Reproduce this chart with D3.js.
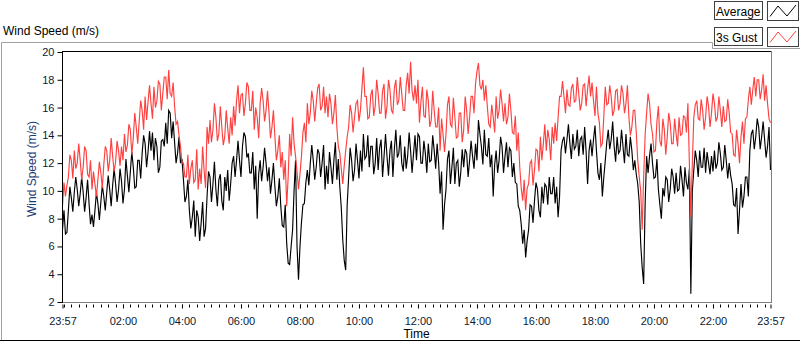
<!DOCTYPE html>
<html><head><meta charset="utf-8">
<script src="https://cdn.jsdelivr.net/npm/d3@7/dist/d3.min.js"></script>
<style>
body{margin:0;background:#fff;}
svg{display:block;font-family:"Liberation Sans",Arial,sans-serif;}
</style>
</head><body>
<svg id="chart" width="800" height="342"></svg>
<script>
// ---- data ----
const chartTitle = "Wind Speed (m/s)";
const yAxisTitle = "Wind Speed (m/s)";
const xAxisTitle = "Time";
const seriesNames = ["Average", "3s Gust"];
const seriesColors = ["#000000", "#ff4040"];
const startTime = "2020-01-01T23:57:00";
const endTime = "2020-01-02T23:57:00";
const stepMinutes = 3;
const yTicks = [2, 4, 6, 8, 10, 12, 14, 16, 18, 20];
const xTickTimes = ["2020-01-01T23:57:00", "2020-01-02T02:00:00", "2020-01-02T04:00:00", "2020-01-02T06:00:00",
  "2020-01-02T08:00:00", "2020-01-02T10:00:00", "2020-01-02T12:00:00", "2020-01-02T14:00:00",
  "2020-01-02T16:00:00", "2020-01-02T18:00:00", "2020-01-02T20:00:00", "2020-01-02T22:00:00", "2020-01-02T23:57:00"];
const xTickLabels = ["23:57", "02:00", "04:00", "06:00", "08:00", "10:00", "12:00", "14:00", "16:00", "18:00", "20:00", "22:00", "23:57"];

// one value every 3 minutes, 20 values per hour (one row per hour)
const average = [
  7.2, 8.6, 6.9, 7.0, 8.6, 10.3, 9.5, 8.5, 9.9, 11.0, 10.1, 8.9, 9.8, 11.0, 9.9, 8.5, 9.5, 10.8, 9.1, 7.6,
  8.3, 7.4, 8.6, 9.9, 9.1, 7.9, 9.2, 10.4, 9.6, 8.6, 9.9, 11.1, 10.1, 8.9, 10.4, 11.6, 10.5, 9.2, 10.1, 11.6,
  10.7, 9.1, 10.1, 12.3, 11.1, 9.9, 11.4, 12.8, 11.7, 10.2, 10.3, 12.2, 12.2, 10.9, 12.7, 14.0, 13.4, 11.7, 12.8, 14.3,
  12.9, 14.2, 12.2, 13.8, 13.2, 11.3, 11.7, 13.6, 13.7, 13.2, 14.9, 13.4, 15.8, 15.6, 13.8, 15.0, 13.5, 12.0, 12.7, 13.9,
  12.0, 12.3, 10.8, 9.2, 9.6, 10.8, 8.6, 7.3, 8.1, 9.3, 6.7, 8.6, 8.1, 6.4, 7.7, 9.2, 6.7, 7.3, 9.6, 11.4,
  11.0, 9.2, 10.5, 12.1, 10.1, 8.9, 10.8, 11.2, 9.3, 8.6, 11.0, 10.0, 11.5, 9.3, 10.5, 12.0, 12.5, 11.0, 12.2, 13.6,
  12.2, 11.0, 13.2, 14.2, 13.9, 12.4, 12.7, 11.3, 11.3, 12.8, 10.1, 11.8, 8.0, 11.2, 12.2, 10.7, 11.7, 13.1, 12.0, 10.7,
  11.7, 9.8, 10.8, 12.0, 10.3, 8.9, 9.6, 10.9, 8.9, 7.5, 7.4, 9.0, 6.2, 4.8, 4.7, 6.0, 7.2, 10.0, 12.2, 6.0,
  3.6, 6.0, 7.7, 9.0, 9.1, 10.6, 11.5, 10.4, 12.0, 13.3, 12.2, 10.8, 11.7, 13.0, 12.7, 11.0, 12.0, 13.3, 10.1, 11.8,
  10.5, 12.8, 11.7, 10.5, 12.2, 13.5, 10.8, 12.3, 10.3, 8.8, 6.5, 5.0, 4.3, 9.0, 11.0, 13.1, 12.2, 10.7, 11.5, 13.4,
  12.2, 10.9, 12.9, 11.4, 14.1, 12.3, 12.5, 14.0, 11.7, 13.2, 13.2, 11.2, 12.0, 13.8, 11.5, 13.1, 13.7, 11.0, 12.5, 14.1,
  12.5, 11.1, 12.9, 13.6, 11.0, 13.0, 14.4, 12.4, 12.7, 14.0, 12.0, 11.4, 13.2, 11.6, 12.5, 14.2, 12.9, 11.3, 12.7, 14.0,
  12.2, 14.1, 13.9, 12.0, 12.0, 13.6, 12.7, 11.3, 13.4, 12.1, 12.2, 14.0, 12.9, 11.6, 13.4, 12.0, 9.8, 11.4, 7.2, 9.0,
  10.1, 12.3, 12.9, 10.5, 11.7, 13.1, 10.5, 12.0, 12.2, 10.3, 11.3, 13.0, 11.7, 13.0, 12.7, 11.0, 12.2, 13.6, 12.5, 11.6,
  13.4, 12.2, 15.1, 14.1, 13.2, 11.9, 14.4, 12.6, 12.5, 13.8, 11.7, 12.6, 9.6, 11.9, 12.9, 11.3, 12.2, 13.9, 13.2, 11.3,
  12.5, 13.5, 11.7, 13.1, 12.9, 11.0, 12.0, 10.6, 10.5, 8.9, 8.6, 7.6, 6.2, 7.2, 5.2, 6.4, 7.2, 9.0, 8.9, 7.7,
  9.3, 10.6, 10.1, 8.6, 8.1, 10.3, 9.1, 10.5, 10.3, 9.0, 11.0, 9.8, 9.8, 11.0, 9.1, 10.3, 8.1, 9.6, 12.9, 13.6,
  13.9, 12.7, 13.7, 14.8, 13.4, 12.3, 14.1, 13.0, 13.2, 14.4, 12.5, 13.7, 13.9, 12.6, 14.6, 12.8, 10.5, 12.9, 13.7, 12.5,
  13.7, 14.7, 12.9, 11.3, 10.8, 12.0, 9.6, 11.0, 12.2, 13.5, 14.4, 13.0, 13.7, 15.0, 13.2, 12.1, 13.9, 12.7, 12.9, 14.4,
  13.2, 12.0, 14.1, 12.6, 12.5, 13.9, 12.9, 11.5, 12.2, 11.2, 10.5, 9.2, 6.2, 4.5, 3.3, 9.0, 12.5, 11.3, 12.5, 13.4,
  12.0, 10.9, 11.0, 12.3, 10.1, 9.0, 8.0, 10.2, 9.6, 11.0, 10.8, 9.2, 10.1, 11.6, 11.0, 9.8, 11.3, 10.0, 10.1, 11.8,
  10.8, 9.6, 11.7, 10.6, 10.1, 11.6, 2.6, 10.0, 11.5, 12.9, 12.2, 11.0, 12.9, 11.7, 11.7, 13.1, 11.3, 12.8, 12.0, 11.2,
  12.5, 11.4, 12.9, 11.6, 12.0, 13.5, 12.7, 11.5, 11.7, 13.3, 12.2, 10.9, 12.0, 11.1, 10.5, 9.0, 8.9, 10.2, 6.9, 8.6,
  10.5, 8.8, 9.6, 11.0, 11.0, 9.6, 12.9, 14.1, 14.4, 13.0, 13.9, 15.2, 14.6, 13.0, 13.9, 15.0, 13.7, 12.4, 13.2, 14.6,
  11.5
];
const gust = [
  8.9, 10.6, 9.6, 10.4, 11.0, 12.6, 12.2, 10.9, 12.9, 11.6, 12.0, 13.4, 12.2, 10.8, 11.7, 13.2, 12.9, 11.2, 11.0, 12.2,
  10.1, 11.4, 10.5, 9.6, 10.8, 12.1, 11.3, 10.2, 11.9, 13.2, 12.9, 11.4, 12.2, 13.8, 12.5, 11.4, 12.1, 13.6, 12.9, 11.8,
  13.2, 12.2, 14.1, 12.8, 13.3, 14.8, 14.4, 12.6, 13.8, 15.6, 14.6, 13.4, 15.0, 16.5, 15.8, 14.4, 16.8, 15.1, 16.4, 17.6,
  16.3, 15.2, 17.5, 16.0, 16.5, 17.9, 17.7, 15.8, 17.0, 18.2, 18.2, 16.6, 18.7, 17.0, 16.8, 17.8, 16.1, 14.8, 15.0, 14.0,
  13.2, 12.0, 12.0, 11.0, 11.0, 12.6, 10.5, 11.6, 12.2, 10.6, 10.8, 13.0, 10.1, 11.6, 10.5, 13.2, 11.5, 10.2, 14.6, 13.4,
  15.1, 13.5, 14.4, 16.3, 15.3, 13.6, 14.1, 16.1, 14.6, 13.3, 13.9, 15.8, 14.5, 13.4, 15.3, 14.0, 16.1, 14.7, 16.5, 17.6,
  15.6, 16.9, 17.0, 15.4, 16.3, 17.8, 17.5, 15.8, 15.8, 17.2, 14.4, 16.0, 15.3, 13.8, 16.3, 17.4, 16.5, 15.0, 15.8, 17.2,
  15.6, 13.8, 14.6, 15.8, 13.9, 12.2, 12.9, 14.0, 11.7, 12.8, 10.8, 12.2, 8.9, 11.0, 14.1, 12.5, 15.3, 13.4, 12.5, 11.4,
  10.1, 11.2, 12.5, 14.2, 14.9, 13.5, 16.3, 14.8, 15.6, 17.2, 16.5, 15.0, 16.3, 17.4, 17.7, 15.8, 16.1, 17.5, 15.6, 16.8,
  15.3, 17.0, 16.3, 14.8, 15.6, 16.9, 14.6, 13.2, 12.7, 11.6, 10.5, 11.8, 12.9, 13.9, 14.6, 16.2, 15.6, 14.2, 15.3, 16.3,
  16.5, 15.0, 15.8, 17.4, 18.9, 16.8, 16.8, 15.2, 15.3, 16.9, 17.3, 15.4, 16.1, 18.0, 17.0, 15.6, 15.6, 17.2, 17.7, 15.2,
  16.1, 18.0, 17.3, 15.8, 15.6, 17.4, 18.0, 16.2, 16.5, 18.2, 17.0, 15.8, 15.8, 17.6, 18.5, 17.0, 19.3, 17.2, 16.5, 17.6,
  16.3, 18.0, 14.9, 16.4, 17.5, 15.4, 15.3, 17.3, 16.5, 14.6, 15.1, 17.2, 15.8, 14.6, 14.6, 16.0, 12.9, 15.2, 14.1, 12.8,
  14.1, 16.2, 16.8, 14.8, 14.6, 16.7, 15.3, 13.8, 13.9, 15.6, 15.6, 13.5, 14.4, 16.8, 15.8, 14.1, 15.3, 16.8, 16.8, 15.6,
  17.7, 18.6, 19.2, 17.6, 17.3, 18.0, 16.5, 17.6, 16.1, 14.8, 14.6, 16.2, 15.3, 14.2, 16.8, 15.2, 15.8, 17.3, 16.3, 15.0,
  16.3, 14.8, 15.3, 17.0, 15.8, 14.2, 14.1, 15.4, 12.9, 14.2, 11.7, 10.2, 9.3, 10.8, 8.6, 10.2, 10.5, 12.0, 12.2, 10.4,
  11.5, 13.0, 12.9, 11.4, 13.9, 12.2, 13.4, 14.8, 12.9, 14.4, 13.7, 12.2, 14.6, 13.4, 14.9, 13.6, 15.3, 16.8, 16.8, 17.9,
  16.8, 15.6, 17.3, 16.2, 16.1, 17.4, 17.7, 16.4, 16.5, 18.2, 17.0, 15.8, 16.3, 17.6, 17.7, 16.1, 17.3, 18.3, 16.8, 17.8,
  16.5, 15.4, 17.5, 15.6, 14.9, 13.2, 13.4, 15.4, 17.5, 16.2, 16.3, 17.6, 16.8, 15.4, 15.8, 17.2, 17.3, 15.8, 16.3, 17.6,
  17.0, 15.6, 16.3, 17.6, 15.3, 14.0, 14.6, 15.8, 15.8, 14.2, 12.2, 11.0, 10.0, 7.2, 11.0, 14.0, 15.6, 17.0, 16.3, 14.8,
  14.1, 12.8, 12.9, 15.0, 16.1, 13.6, 13.2, 15.2, 14.4, 12.6, 13.9, 15.6, 14.9, 13.4, 13.4, 15.2, 14.1, 13.2, 15.3, 14.0,
  14.1, 15.4, 15.3, 14.2, 16.3, 12.0, 8.1, 12.0, 15.3, 16.2, 16.5, 15.2, 15.1, 16.6, 15.8, 14.4, 15.3, 16.8, 16.1, 14.6,
  15.6, 17.0, 16.3, 15.0, 15.3, 16.8, 15.8, 14.6, 16.1, 15.0, 15.1, 16.6, 15.6, 14.2, 14.1, 12.6, 12.5, 14.4, 13.4, 12.0,
  13.9, 15.0, 13.4, 15.2, 15.3, 16.6, 17.5, 16.2, 17.3, 18.2, 16.8, 18.0, 18.0, 16.6, 17.3, 18.4, 16.5, 17.6, 16.3, 15.2,
  14.9
];

// ---- layout ----
const svg = d3.select("#chart");
const plot = {left: 62.5, right: 770.5, top: 52, bottom: 302};

const parse = d3.isoParse;
const t0 = parse(startTime), t1 = parse(endTime);
const x = d3.scaleTime().domain([t0, t1]).range([plot.left, plot.right]);
const y = d3.scaleLinear().domain([2, 20]).range([plot.bottom, plot.top]);

const timeAt = i => d3.timeMinute.offset(t0, i * stepMinutes);

// outer frame
const frame = svg.append("g").attr("fill", "none");
frame.append("path").attr("d", "M1.5,341 V42.5 H712.5 V48.5 H800").attr("stroke", "#a0a0a0");
frame.append("line").attr("x1", 0).attr("x2", 800).attr("y1", 340.5).attr("y2", 340.5).attr("stroke", "#000");

// title
svg.append("text").attr("x", 3).attr("y", 35).attr("font-size", 12).attr("fill", "#000").text(chartTitle);

// series
const line = d3.line().x((d, i) => x(timeAt(i))).y(d => y(d));
svg.append("clipPath").attr("id", "clip").append("rect")
  .attr("x", plot.left).attr("y", plot.top).attr("width", plot.right - plot.left + 1).attr("height", plot.bottom - plot.top);
const lines = svg.append("g").attr("clip-path", "url(#clip)");
lines.append("path").datum(average).attr("d", line).attr("fill", "none").attr("stroke", seriesColors[0])
  .attr("stroke-width", 1.15).attr("stroke-linejoin", "miter");
lines.append("path").datum(gust).attr("d", line).attr("fill", "none").attr("stroke", seriesColors[1])
  .attr("stroke-width", 1.15).attr("stroke-linejoin", "miter");

// border lines
svg.append("line").attr("x1", 62).attr("x2", 772).attr("y1", 51.5).attr("y2", 51.5).attr("stroke", "#000");
svg.append("line").attr("x1", 771.5).attr("x2", 771.5).attr("y1", 51).attr("y2", 303).attr("stroke", "#808080");
svg.append("line").attr("x1", 62).attr("x2", 772).attr("y1", 302.5).attr("y2", 302.5).attr("stroke", "#808080");

// y axis
const yAxis = d3.axisLeft(y).tickValues(yTicks).tickSize(5).tickPadding(3).tickFormat(d3.format("d"));
const gy = svg.append("g").attr("transform", "translate(62.5,0)").call(yAxis);
gy.select(".domain").attr("stroke", "#000").attr("d", `M0,${plot.top} V${plot.bottom + 1}`);
gy.selectAll(".tick line").attr("stroke", "#000");
gy.selectAll(".tick text").attr("font-size", 11).attr("fill", "#0d1a33").attr("font-family", "Liberation Sans, Arial, sans-serif");

// x axis minor ticks (every 15 min)
const minor = d3.timeMinute.every(15).range(t0, t1);
const gx = svg.append("g").attr("transform", `translate(0,${plot.bottom + 0.5})`);
gx.selectAll("line.minor").data(minor).enter().append("line")
  .attr("x1", d => Math.round(x(d)) + 0.5).attr("x2", d => Math.round(x(d)) + 0.5)
  .attr("y1", 2).attr("y2", 5).attr("stroke", "#000");
const majorTimes = xTickTimes.map(parse);
const xAxis = d3.axisBottom(x).tickValues(majorTimes).tickSize(6).tickPadding(9)
  .tickFormat((d, i) => xTickLabels[i]);
const gxa = svg.append("g").attr("transform", `translate(0,${plot.bottom + 0.5})`).call(xAxis);
gxa.select(".domain").remove();
gxa.selectAll(".tick line").attr("stroke", "#000").attr("y1", 2);
gxa.selectAll(".tick text").attr("font-size", 11).attr("fill", "#0d1a33").attr("font-family", "Liberation Sans, Arial, sans-serif");

// axis titles
svg.append("text").attr("x", (plot.left + plot.right) / 2).attr("y", 338).attr("text-anchor", "middle")
  .attr("font-size", 12).attr("fill", "#000").text(xAxisTitle);
svg.append("text").attr("transform", `translate(36,${(plot.top + plot.bottom) / 2 - 8}) rotate(-90)`)
  .attr("text-anchor", "middle").attr("font-size", 12).attr("fill", "#1c3c78").text(yAxisTitle);

// legend
const leg = svg.append("g");
seriesNames.forEach((name, i) => {
  const oy = i * 26;
  leg.append("rect").attr("x", 714.5).attr("y", 1.5 + oy).attr("width", 48).attr("height", 18)
    .attr("fill", "#fff").attr("stroke", "#404040");
  leg.append("text").attr("x", 716).attr("y", 16 + oy).attr("font-size", 12).attr("fill", "#000").text(name);
  leg.append("rect").attr("x", 767.5).attr("y", 1.5 + oy).attr("width", 31).attr("height", 19)
    .attr("fill", "#fff").attr("stroke", "#404040");
  leg.append("path").attr("d", `M770,${16.5 + oy} L778,${6 + oy} L787,${16 + oy} L796,${5 + oy}`)
    .attr("fill", "none").attr("stroke", seriesColors[i]).attr("stroke-width", 1);
});
</script>
</body></html>
